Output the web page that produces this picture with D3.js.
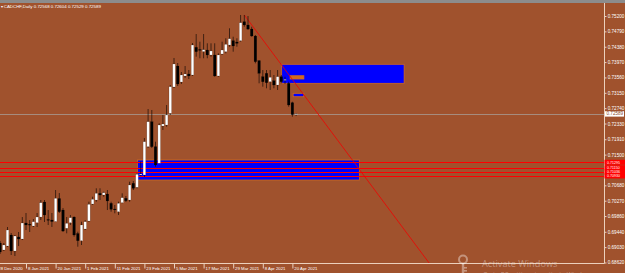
<!DOCTYPE html>
<html>
<head>
<meta charset="utf-8">
<script src="https://cdn.jsdelivr.net/npm/d3@7"></script>
<style>
html, body { margin: 0; padding: 0; background: #A0522D; overflow: hidden; }
svg { display: block; }
</style>
</head>
<body>
<div id="chart"></div>
<script>
// CADCHF daily bars, 28 Dec 2020 .. 21 Apr 2021
var dates = [
    "2020-12-28","2020-12-29","2020-12-30","2020-12-31",
    "2021-01-04","2021-01-05","2021-01-06","2021-01-07","2021-01-08",
    "2021-01-11","2021-01-12","2021-01-13","2021-01-14","2021-01-15",
    "2021-01-18","2021-01-19","2021-01-20","2021-01-21","2021-01-22",
    "2021-01-25","2021-01-26","2021-01-27","2021-01-28","2021-01-29",
    "2021-02-01","2021-02-02","2021-02-03","2021-02-04","2021-02-05",
    "2021-02-08","2021-02-09","2021-02-10","2021-02-11","2021-02-12",
    "2021-02-15","2021-02-16","2021-02-17","2021-02-18","2021-02-19",
    "2021-02-22","2021-02-23","2021-02-24","2021-02-25","2021-02-26",
    "2021-03-01","2021-03-02","2021-03-03","2021-03-04","2021-03-05",
    "2021-03-08","2021-03-09","2021-03-10","2021-03-11","2021-03-12",
    "2021-03-15","2021-03-16","2021-03-17","2021-03-18","2021-03-19",
    "2021-03-22","2021-03-23","2021-03-24","2021-03-25","2021-03-26",
    "2021-03-29","2021-03-30","2021-03-31","2021-04-01","2021-04-02",
    "2021-04-05","2021-04-06","2021-04-07","2021-04-08","2021-04-09",
    "2021-04-12","2021-04-13","2021-04-14","2021-04-15","2021-04-16",
    "2021-04-19","2021-04-20","2021-04-21"
]

var open = [
    0.68954,0.69140,0.68954,0.69060,0.69354,0.68927,0.69301,0.69247,0.69674,
    0.69640,0.69594,0.69682,0.69834,0.70235,0.69768,0.69754,0.69714,0.70328,0.70021,
    0.69533,0.69682,0.69834,0.69394,0.69202,0.69514,0.69728,0.70181,0.70288,0.70467,
    0.70422,0.70448,0.70200,0.70048,0.69976,0.70216,0.70334,0.70288,0.70734,0.70627,
    0.70956,0.70956,0.71711,0.72378,0.71711,0.71268,0.72264,0.72290,0.72603,0.73305,
    0.73865,0.73438,0.73599,0.73652,0.73625,0.74364,0.74306,0.74250,0.74292,0.74159,
    0.74159,0.73599,0.74186,0.74247,0.74425,0.74541,0.74506,0.74541,0.75048,0.74960,
    0.74853,0.74666,0.74007,0.73580,0.73670,0.73446,0.73473,0.73358,0.73580,0.73492,
    0.73403,0.72886,0.72568
]
var high = [
    0.69167,0.69194,0.69140,0.69568,0.69407,0.69354,0.69434,0.69834,0.69941,
    0.69754,0.69781,0.69941,0.70288,0.70288,0.70021,0.69941,0.70555,0.70475,0.70075,
    0.69834,0.69888,0.69848,0.69442,0.69709,0.69754,0.70243,0.70376,0.70601,0.70601,
    0.70510,0.70555,0.70243,0.70155,0.70243,0.70467,0.70395,0.70777,0.70795,0.71001,
    0.71311,0.71943,0.72717,0.72691,0.71845,0.72336,0.72557,0.72824,0.73358,0.74079,
    0.73945,0.73705,0.73865,0.73758,0.74479,0.74719,0.74514,0.74719,0.74471,0.74471,
    0.74471,0.74204,0.74514,0.74605,0.74872,0.74647,0.74605,0.75227,0.75227,0.75200,
    0.74914,0.74693,0.74025,0.73758,0.73758,0.73758,0.73625,0.73758,0.73625,0.73580,
    0.73446,0.72912,0.72604
]
var low = [
    0.68900,0.68847,0.68927,0.69034,0.68820,0.68793,0.69060,0.69220,0.69487,
    0.69434,0.69568,0.69568,0.69754,0.69701,0.69621,0.69568,0.69701,0.69941,0.69434,
    0.69399,0.69621,0.69309,0.69042,0.69087,0.69487,0.69709,0.70155,0.70243,0.70288,
    0.70376,0.70021,0.69976,0.69933,0.69888,0.70200,0.70235,0.70243,0.70555,0.70601,
    0.70929,0.70902,0.71676,0.71676,0.71177,0.71249,0.72157,0.72245,0.72557,0.73278,
    0.73331,0.73385,0.73545,0.73518,0.73599,0.74114,0.74071,0.74071,0.74071,0.74114,
    0.73580,0.73580,0.74159,0.74204,0.74380,0.74247,0.74380,0.74514,0.74914,0.74826,
    0.74647,0.73937,0.73403,0.73313,0.73270,0.73225,0.73270,0.73225,0.73403,0.73385,
    0.72779,0.72512,0.72529
]
var close = [
    0.69114,0.68900,0.69087,0.69487,0.68927,0.69327,0.69247,0.69674,0.69621,
    0.69625,0.69709,0.69834,0.70216,0.69888,0.69754,0.69714,0.70334,0.69976,0.69461,
    0.69666,0.69816,0.69354,0.69202,0.69621,0.69709,0.70173,0.70307,0.70467,0.70422,
    0.70483,0.70262,0.70040,0.70035,0.70200,0.70350,0.70270,0.70689,0.70601,0.70974,
    0.70982,0.71845,0.72378,0.71711,0.71223,0.72290,0.72317,0.72557,0.73313,0.73919,
    0.73385,0.73625,0.73652,0.73599,0.74425,0.74247,0.74292,0.74300,0.74159,0.74266,
    0.73599,0.74159,0.74292,0.74444,0.74594,0.74399,0.74471,0.75021,0.74960,0.74853,
    0.74666,0.73980,0.73670,0.73446,0.73419,0.73564,0.73358,0.73580,0.73446,0.73505,
    0.72824,0.72568,0.72589
]

var symbol = "CADCHF,Daily"
var bid = 0.72589

// 0.71090 sits under the red level labels, so it is left out
var priceTicks = [0.75200, 0.74790, 0.74380, 0.73970, 0.73560, 0.73150, 0.72740, 0.72330,
    0.71910, 0.71500, 0.70680, 0.70270, 0.69860, 0.69440, 0.69030, 0.68620]
var timeTicks = ["2020-12-28", "2021-01-08", "2021-01-20", "2021-02-01", "2021-02-11", "2021-02-23",
    "2021-03-05", "2021-03-17", "2021-03-29", "2021-04-08", "2021-04-20"]

// horizontal lines
var levels = [0.71295, 0.71150, 0.71036, 0.70930]

// rectangles: bar index from/to, price top/bottom
var zoneFrom = [38.1, 77.1, 79.4, 80.2]
var zoneTo = [98.1, 110.2, 83.1, 83.1]
var zoneTop = [0.71356, 0.73911, 0.73606, 0.73136]
var zoneBottom = [0.70822, 0.73403, 0.73518, 0.73045]

// trend line
var trendBars = [67, 117]
var trendPrices = [0.75227, 0.68600]

var zoneColors = ["#0000ff", "#0000ff", "#d2691e", "#0000ff"]

var width = 625
var height = 273
var plotRight = 604
var plotTop = 3
var plotBottom = 263
var axisColor = "#ecd0bc"
var font = "'Liberation Sans', Arial, sans-serif"

var x = d3.scaleLinear().domain([0, dates.length - 1]).range([-3.6, 296.1])
var y = d3.scaleLinear().domain([0.68620, 0.75200]).range([262.5, 16])

var svg = d3.select("#chart")
    .append("svg")
    .attr("width", width)
    .attr("height", height)

svg.append("rect").attr("width", width).attr("height", height).attr("fill", "#A0522D")
svg.append("rect").attr("width", width).attr("height", plotTop).attr("fill", "#8c8c8c")

svg.append("defs").append("clipPath").attr("id", "plot")
    .append("rect").attr("x", 0).attr("y", plotTop).attr("width", plotRight).attr("height", plotBottom - plotTop)

var plot = svg.append("g").attr("clip-path", "url(#plot)")

// zones
var zones = d3.range(zoneFrom.length)
plot.append("g")
    .selectAll("rect")
    .data(zones)
    .join("rect")
    .attr("x", i => x(zoneFrom[i]))
    .attr("y", i => y(zoneTop[i]))
    .attr("width", i => x(zoneTo[i]) - x(zoneFrom[i]))
    .attr("height", i => y(zoneBottom[i]) - y(zoneTop[i]))
    .attr("fill", i => zoneColors[i])
    .attr("stroke", "#d2691e")
    .attr("stroke-width", 0.8)

// horizontal levels
plot.append("g")
    .selectAll("line")
    .data(levels)
    .join("line")
    .attr("x1", 0)
    .attr("x2", plotRight)
    .attr("y1", d => Math.round(y(d)) + 0.5)
    .attr("y2", d => Math.round(y(d)) + 0.5)
    .attr("stroke", "#ff0000")
    .attr("stroke-width", 1)

// bid line
plot.append("line")
    .attr("x1", 0)
    .attr("x2", plotRight)
    .attr("y1", Math.round(y(bid)) + 0.5)
    .attr("y2", Math.round(y(bid)) + 0.5)
    .attr("stroke", "#a68c7e")
    .attr("stroke-width", 1)

// trend line
plot.append("line")
    .attr("x1", x(trendBars[0]))
    .attr("y1", y(trendPrices[0]))
    .attr("x2", x(trendBars[1]))
    .attr("y2", y(trendPrices[1]))
    .attr("stroke", "#f00000")
    .attr("stroke-width", 0.8)

// candles
var bars = d3.range(dates.length)
var candles = plot.append("g")

candles.selectAll("line")
    .data(bars)
    .join("line")
    .attr("x1", i => x(i))
    .attr("x2", i => x(i))
    .attr("y1", i => y(high[i]))
    .attr("y2", i => y(low[i]))
    .attr("stroke", "#000")
    .attr("stroke-opacity", 0.6)
    .attr("stroke-width", 1)

candles.selectAll("rect")
    .data(bars)
    .join("rect")
    .attr("x", i => x(i) - 1.3)
    .attr("width", 2.6)
    .attr("y", i => y(Math.max(open[i], close[i])))
    .attr("height", i => Math.max(0.8, Math.abs(y(open[i]) - y(close[i]))))
    .attr("fill", i => close[i] >= open[i] ? "#ffffff" : "#000000")
    .attr("stroke", "#000")
    .attr("stroke-opacity", 0.35)
    .attr("stroke-width", 0.4)

// axis lines
svg.append("line")
    .attr("x1", plotRight + 0.5).attr("x2", plotRight + 0.5)
    .attr("y1", plotTop).attr("y2", plotBottom + 0.5)
    .attr("stroke", axisColor)
svg.append("line")
    .attr("x1", 0).attr("x2", plotRight + 0.5)
    .attr("y1", plotBottom + 0.5).attr("y2", plotBottom + 0.5)
    .attr("stroke", axisColor)

// price axis
var yAxis = d3.axisRight(y)
    .tickValues(priceTicks)
    .tickSize(2)
    .tickPadding(1.2)
    .tickFormat(d3.format(".5f"))

var gy = svg.append("g")
    .attr("transform", "translate(" + (plotRight + 0.5) + ",0)")
    .call(yAxis)
    .attr("font-size", 4.6)
    .attr("font-family", font)
gy.select(".domain").remove()
gy.selectAll("line").attr("stroke", axisColor)
gy.selectAll("text").attr("fill", "#ffffff")

// time axis
var parse = d3.timeParse("%Y-%m-%d")
var fmt = d3.timeFormat("%-d %b %Y")
var xAxis = d3.axisBottom(x)
    .tickValues(timeTicks.map(d => dates.indexOf(d)))
    .tickSize(5)
    .tickFormat(i => fmt(parse(dates[i])))

var gx = svg.append("g")
    .attr("transform", "translate(0," + (plotBottom + 0.5) + ")")
    .call(xAxis)
    .attr("font-size", 4.3)
    .attr("font-family", font)
gx.select(".domain").remove()
gx.selectAll("line").attr("stroke", axisColor)
gx.selectAll("text")
    .attr("fill", "#ffffff")
    .attr("text-anchor", "start")
    .attr("x", 1.4)
    .attr("y", 3.6)

// level price labels
var lab = svg.append("g")
lab.selectAll("rect")
    .data(levels)
    .join("rect")
    .attr("x", plotRight + 0.5)
    .attr("y", d => y(d) - 2.5)
    .attr("width", width - plotRight)
    .attr("height", 5)
    .attr("fill", "#ff0000")
lab.selectAll("text")
    .data(levels)
    .join("text")
    .attr("x", plotRight + 3)
    .attr("y", d => y(d))
    .attr("dy", "0.35em")
    .attr("font-size", 3.6)
    .attr("font-family", font)
    .attr("fill", "#ffffff")
    .text(d => d3.format(".5f")(d))

// bid label
svg.append("rect")
    .attr("x", plotRight + 1)
    .attr("y", y(bid) - 2.6)
    .attr("width", 19)
    .attr("height", 5.4)
    .attr("fill", "#ffffff")
svg.append("text")
    .attr("x", plotRight + 2.5)
    .attr("y", y(bid))
    .attr("dy", "0.35em")
    .attr("font-size", 4.6)
    .attr("font-family", font)
    .attr("fill", "#8b4a2b")
    .text(d3.format(".5f")(bid))

// title: last bar OHLC
var last = dates.length - 1
svg.append("text")
    .attr("x", 0.5)
    .attr("y", 8)
    .attr("font-size", 4.4)
    .attr("font-family", font)
    .attr("fill", "#ffffff")
    .text("\u25BE " + symbol + "  " + [open[last], high[last], low[last], close[last]].map(d3.format(".5f")).join(" "))

// windows watermark
var wm = svg.append("g").attr("fill", "rgba(255,255,255,0.38)").attr("font-family", "'Open Sans', 'Liberation Sans', sans-serif")
wm.append("circle").attr("cx", 463).attr("cy", 259.5).attr("r", 4).attr("fill", "none")
    .attr("stroke", "rgba(255,255,255,0.38)").attr("stroke-width", 2)
wm.append("rect").attr("x", 461.8).attr("y", 263).attr("width", 2.4).attr("height", 10)
wm.append("rect").attr("x", 464).attr("y", 267).attr("width", 3).attr("height", 1.6)
wm.append("rect").attr("x", 464).attr("y", 270).attr("width", 3).attr("height", 1.6)
wm.append("text").attr("x", 482).attr("y", 266.5).attr("font-size", 9.2).text("Activate Windows")
wm.append("text").attr("x", 483).attr("y", 276.5).attr("font-size", 6.3).text("Go to PC settings to activate Windows.")
</script>
</body>
</html>
